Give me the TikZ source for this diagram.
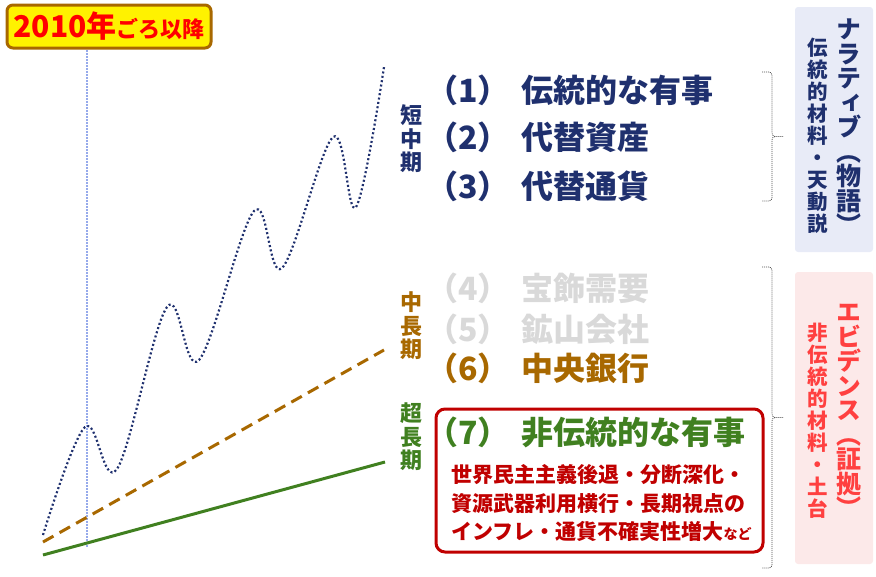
\documentclass[tikz,border=0pt]{standalone}
\usepackage{fontspec}
\setmainfont{Noto Sans CJK JP}
\newfontfamily\tatefont[RawFeature=+vert]{Noto Sans CJK JP}
\usetikzlibrary{positioning}

\definecolor{navy}{RGB}{31,48,110}
\definecolor{paleitem}{RGB}{217,217,217}
\definecolor{ochre}{RGB}{168,104,0}
\definecolor{leaf}{RGB}{64,128,32}
\definecolor{deepred}{RGB}{192,0,0}
\definecolor{brightred}{RGB}{255,64,64}
\definecolor{guide}{RGB}{150,170,235}
\definecolor{panelblue}{RGB}{232,235,247}
\definecolor{panelpink}{RGB}{252,233,233}

\newcommand{\rowno}[1]{（#1）\hspace{12pt}}

\tikzset{
	item/.style={anchor=west, inner sep=0pt, font=\fontsize{32}{32}\selectfont\bfseries},
	term/.style={align=center, inner sep=0pt, font=\fontsize{22}{23.5}\selectfont\bfseries},
	tatebig/.style={align=center, inner sep=0pt, font=\tatefont\fontsize{25}{24.5}\selectfont\bfseries},
	tatesmall/.style={align=center, inner sep=0pt, font=\tatefont\fontsize{20.5}{22}\selectfont\bfseries},
	bracket/.style={draw=black!70, line width=0.7pt, dash pattern=on 1pt off 1pt},
}

\begin{document}
\begin{tikzpicture}[x=1pt, y=-1pt]
	\useasboundingbox (0,0) rectangle (876,576);

	% chart
	\draw[guide, line width=1.3pt, dash pattern=on 1.5pt off 1.5pt] (87,50) -- (87,547);
	\draw[navy, line width=2.2pt, dash pattern=on 2pt off 2.4pt] plot[smooth, tension=0.6] coordinates {(43,535) (85,427) (117,469) (167,307) (199,360) (254,211) (282,268) (333,137) (356,207) (384,67)};
	\draw[ochre, line width=3pt, dash pattern=on 12pt off 7pt] (43,542) -- (384,350);
	\draw[leaf, line width=3pt] (43,555) -- (385,462);

	\node[draw=ochre, fill=yellow, line width=3pt, rounded corners=6pt, minimum width=204pt, minimum height=43pt, inner sep=0pt, text=red, font=\bfseries] (since) at (109,26.5) {\fontsize{30}{30}\selectfont 2010年\fontsize{22}{22}\selectfont ごろ以降};

	% horizons
	\node[term, navy] (short) at (411,139) {短\\中\\期};
	\node[term, ochre] (mid) at (411,326) {中\\長\\期};
	\node[term, leaf] (long) at (411,437) {超\\長\\期};

	% items
	\node[item, navy] (r1) at (426,90) {\rowno{1}伝統的な有事};
	\node[item, navy] (r2) at ([yshift=-47pt]r1.west) {\rowno{2}代替資産};
	\node[item, navy] (r3) at ([yshift=-49pt]r2.west) {\rowno{3}代替通貨};
	\node[item, paleitem] (r4) at (426,288) {\rowno{4}宝飾需要};
	\node[item, paleitem] (r5) at ([yshift=-41pt]r4.west) {\rowno{5}鉱山会社};
	\node[item, ochre] (r6) at ([yshift=-39pt]r5.west) {\rowno{6}中央銀行};

	\node[draw=deepred, line width=3pt, rounded corners=9pt, minimum width=327pt, minimum height=143pt, inner sep=0pt] (box7) at (599.5,480.5) {};
	\node[item, leaf] (r7) at (426,432) {\rowno{7}非伝統的な有事};
	\node[anchor=west, inner sep=0pt, align=left, text=deepred, font=\fontsize{21}{28.5}\selectfont\bfseries] (detail) at (451,503)
		{世界民主主義後退・分断深化・\\資源武器利用横行・長期視点の\\インフレ・通貨不確実性増大{\fontsize{14}{14}\selectfont など}};

	% brackets
	\draw[bracket] (762,72) -- (769,72) to[out=0, in=90] (772,75) -- (772,133) to[out=-90, in=180] (775,136.5) -- (783,136.5);
	\draw[bracket] (775,136.5) to[out=180, in=90] (772,140) -- (772,198) to[out=-90, in=0] (769,201) -- (762,201);
	\draw[bracket] (762,267) -- (769,267) to[out=0, in=90] (772,270) -- (772,414) to[out=-90, in=180] (775,417.5) -- (783,417.5);
	\draw[bracket] (775,417.5) to[out=180, in=90] (772,421) -- (772,565) to[out=-90, in=0] (769,568) -- (762,568);

	% panels
	\fill[panelblue, rounded corners=3pt] (795,7) rectangle (873,252);
	\fill[panelpink, rounded corners=3pt] (795,272) rectangle (873,564);
	\node[tatebig, navy] (narr) at (849,127) {ナ\\ラ\\テ\\ィ\\ブ\\︵\\物\\語\\︶};
	\node[tatesmall, navy] (narrsub) at (818,136) {伝\\統\\的\\材\\料\\・\\天\\動\\説};
	\node[tatebig, brightred] (evid) at (849,411) {エ\\ビ\\デ\\ン\\ス\\︵\\証\\拠\\︶};
	\node[tatesmall, brightred] (evidsub) at (818,421) {非\\伝\\統\\的\\材\\料\\・\\土\\台};
\end{tikzpicture}
\end{document}
